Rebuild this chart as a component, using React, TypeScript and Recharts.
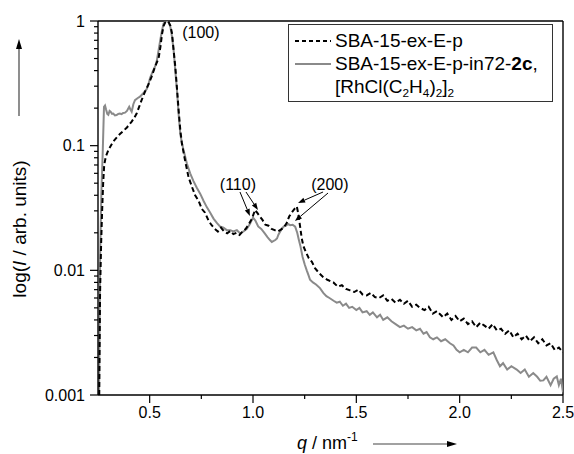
import React from 'react';
import { LineChart, Line, XAxis, YAxis, ReferenceLine, ReferenceDot, Legend } from 'recharts';

// ---------------- data ----------------
const qDashed = [
  0.256, 0.26, 0.265, 0.27, 0.275, 0.28, 0.288, 0.3, 0.312, 0.324, 0.34, 0.356, 0.372, 0.39, 0.413, 0.425,
  0.437, 0.449, 0.461, 0.477, 0.493, 0.51, 0.526, 0.543, 0.552, 0.56, 0.568, 0.576, 0.584, 0.592, 0.6, 0.608,
  0.616, 0.624, 0.632, 0.64, 0.648, 0.656, 0.672, 0.688, 0.704, 0.72, 0.737, 0.753, 0.768, 0.785, 0.8, 0.815,
  0.83, 0.845, 0.86, 0.875, 0.89, 0.905, 0.92, 0.935, 0.95, 0.965, 0.98, 0.995, 1.01, 1.02, 1.03, 1.045,
  1.06, 1.075, 1.09, 1.105, 1.12, 1.135, 1.15, 1.163, 1.175, 1.187, 1.2, 1.212, 1.22, 1.228, 1.236, 1.244,
  1.256, 1.27, 1.285, 1.3, 1.32, 1.34, 1.36, 1.389, 1.41, 1.43, 1.45, 1.47, 1.49, 1.51, 1.53, 1.55,
  1.57, 1.59, 1.61, 1.63, 1.65, 1.67, 1.69, 1.711, 1.73, 1.75, 1.77, 1.79, 1.808, 1.83, 1.85, 1.87,
  1.89, 1.92, 1.94, 1.96, 1.98, 2.0, 2.02, 2.04, 2.06, 2.08, 2.1, 2.12, 2.14, 2.16, 2.18, 2.2,
  2.22, 2.24, 2.26, 2.28, 2.3, 2.32, 2.34, 2.36, 2.38, 2.4, 2.42, 2.44, 2.46, 2.48, 2.5,
];
const iDashed = [
  0.001, 0.0066, 0.016, 0.03, 0.05, 0.07, 0.082, 0.092, 0.1, 0.108, 0.116, 0.124, 0.131, 0.14, 0.156, 0.167,
  0.181, 0.205, 0.232, 0.27, 0.307, 0.36, 0.43, 0.5, 0.62, 0.79, 0.92, 0.98, 1.0, 0.98, 0.92, 0.8,
  0.58, 0.43, 0.29, 0.193, 0.135, 0.104, 0.075, 0.056, 0.047, 0.04, 0.036, 0.031, 0.029, 0.025, 0.023, 0.0215,
  0.0205, 0.022, 0.0205, 0.0198, 0.0207, 0.0195, 0.02, 0.0192, 0.0205, 0.0215, 0.0235, 0.026, 0.0305, 0.029, 0.0275, 0.0255,
  0.0232, 0.0228, 0.0215, 0.021, 0.0205, 0.0212, 0.0222, 0.024, 0.027, 0.029, 0.031, 0.0325, 0.028, 0.0224, 0.018, 0.0156,
  0.014, 0.0125, 0.0117, 0.0104, 0.0095, 0.0088, 0.0084, 0.008, 0.0074, 0.0076, 0.0071, 0.0069, 0.0067, 0.007, 0.0064, 0.0063,
  0.0066, 0.0061, 0.006, 0.0063, 0.0057, 0.0059, 0.0055, 0.0058, 0.0054, 0.0057, 0.0051, 0.0053, 0.005, 0.0048, 0.0051, 0.0045,
  0.0047, 0.0042, 0.0045, 0.004, 0.0043, 0.0039, 0.0041, 0.0037, 0.0039, 0.0035, 0.0038, 0.0036, 0.0034, 0.0037, 0.0033, 0.0034,
  0.0031, 0.0033, 0.0029, 0.0031, 0.0028, 0.003, 0.0027, 0.0029, 0.0026, 0.0028, 0.0025, 0.0026, 0.0023, 0.0024, 0.0022,
];

const qGray = [
  0.255, 0.26, 0.266, 0.273, 0.279, 0.284, 0.289, 0.295, 0.3, 0.306, 0.311, 0.318, 0.324, 0.332, 0.34, 0.348,
  0.356, 0.364, 0.372, 0.381, 0.39, 0.401, 0.407, 0.413, 0.421, 0.429, 0.441, 0.453, 0.469, 0.486, 0.494, 0.502,
  0.514, 0.526, 0.535, 0.543, 0.551, 0.559, 0.567, 0.575, 0.584, 0.592, 0.6, 0.608, 0.616, 0.624, 0.632, 0.64,
  0.648, 0.656, 0.664, 0.68, 0.696, 0.712, 0.728, 0.745, 0.761, 0.777, 0.793, 0.809, 0.825, 0.84, 0.857, 0.873,
  0.89, 0.905, 0.922, 0.938, 0.954, 0.97, 0.985, 1.0, 1.012, 1.025, 1.04, 1.055, 1.07, 1.082, 1.091, 1.1,
  1.108, 1.116, 1.123, 1.135, 1.148, 1.16, 1.17, 1.18, 1.192, 1.204, 1.214, 1.222, 1.23, 1.24, 1.25, 1.26,
  1.268, 1.276, 1.29, 1.305, 1.324, 1.34, 1.355, 1.37, 1.39, 1.405, 1.42, 1.435, 1.45, 1.465, 1.48, 1.5,
  1.515, 1.53, 1.55, 1.565, 1.58, 1.6, 1.615, 1.63, 1.65, 1.67, 1.69, 1.711, 1.73, 1.75, 1.77, 1.79,
  1.808, 1.825, 1.84, 1.856, 1.872, 1.89, 1.91, 1.93, 1.953, 1.97, 1.985, 2.0, 2.02, 2.04, 2.06, 2.08,
  2.1, 2.12, 2.14, 2.163, 2.18, 2.195, 2.21, 2.23, 2.25, 2.276, 2.295, 2.315, 2.335, 2.356, 2.375, 2.39,
  2.405, 2.42, 2.44, 2.455, 2.47, 2.48, 2.49, 2.5,
];
const iGray = [
  0.001, 0.012, 0.04, 0.09, 0.205, 0.21, 0.195, 0.18, 0.177, 0.19, 0.187, 0.18, 0.181, 0.175, 0.176, 0.18,
  0.181, 0.179, 0.183, 0.184, 0.19, 0.205, 0.195, 0.187, 0.215, 0.232, 0.24, 0.247, 0.263, 0.285, 0.31, 0.35,
  0.39, 0.43, 0.485, 0.58, 0.7, 0.83, 0.95, 0.99, 1.0, 0.97, 0.9, 0.75, 0.58, 0.4, 0.28, 0.18,
  0.125, 0.105, 0.092, 0.072, 0.06, 0.052, 0.046, 0.041, 0.036, 0.032, 0.029, 0.026, 0.024, 0.0225, 0.022, 0.021,
  0.021, 0.0205, 0.021, 0.0198, 0.0205, 0.0215, 0.0235, 0.0265, 0.025, 0.0225, 0.0215, 0.02, 0.0185, 0.0175, 0.0169, 0.0172,
  0.0175, 0.018, 0.0193, 0.021, 0.0224, 0.0228, 0.0235, 0.023, 0.0232, 0.0224, 0.02, 0.0175, 0.0155, 0.0128, 0.0112, 0.01,
  0.0092, 0.0084, 0.008, 0.0077, 0.0072, 0.0066, 0.0062, 0.006, 0.0057, 0.0055, 0.0056, 0.0052, 0.0054, 0.005, 0.0051, 0.0048,
  0.005, 0.0046, 0.0047, 0.0044, 0.0046, 0.0042, 0.0044, 0.004, 0.0042, 0.0039, 0.0037, 0.0035, 0.0036, 0.0034, 0.0035, 0.0033,
  0.0034, 0.0031, 0.0032, 0.0029, 0.0028, 0.0029, 0.0027, 0.0028, 0.0026, 0.0025, 0.0023, 0.0022, 0.0023, 0.0022, 0.0024, 0.0024,
  0.0022, 0.0023, 0.0021, 0.0022, 0.0019, 0.0017, 0.0018, 0.0016, 0.0017, 0.0016, 0.0015, 0.0016, 0.0014, 0.0015, 0.0014, 0.0013,
  0.00131, 0.0014, 0.0012, 0.00135, 0.00141, 0.0012, 0.00135, 0.00105,
];

const xMajorTicks = [0.5, 1.0, 1.5, 2.0, 2.5];
const xMinorTicks = [0.75, 1.25, 1.75, 2.25];
const yMajorTicks = [0.001, 0.01, 0.1, 1];
const yTickLabels = ['0.001', '0.01', '0.1', '1'];
const yMinorTicks = [
  0.002, 0.003, 0.004, 0.005, 0.006, 0.007, 0.008, 0.009,
  0.02, 0.03, 0.04, 0.05, 0.06, 0.07, 0.08, 0.09,
  0.2, 0.3, 0.4, 0.5, 0.6, 0.7, 0.8, 0.9,
];

const seriesNames = ['SBA-15-ex-E-p', 'SBA-15-ex-E-p-in72-2c, [RhCl(C2H4)2]2'];

const peakLabels = [
  { text: '(100)', q: 0.748, i: 0.816 },
  { text: '(110)', q: 0.927, i: 0.0493 },
  { text: '(200)', q: 1.372, i: 0.0493 },
];

const peakArrows = [
  { q1: 0.937, i1: 0.0425, q2: 0.985, i2: 0.0273 },
  { q1: 0.966, i1: 0.0425, q2: 1.024, i2: 0.0305 },
  { q1: 1.339, i1: 0.0425, q2: 1.218, i2: 0.0347 },
  { q1: 1.363, i1: 0.0417, q2: 1.203, i2: 0.0249 },
];

// ---------------- derived tables ----------------
const dashedData = qDashed.map((q, k) => ({ q, i: iDashed[k] }));
const grayData = qGray.map((q, k) => ({ q, i: iGray[k] }));

const FONT = '"Liberation Sans", Arial, Helvetica, sans-serif';
const GRAY = '#8a8a8a';

const isIn = (arr: number[], v: number) => arr.findIndex((t) => Math.abs(t - v) <= Math.abs(v) * 1e-6);

const YTick = (props: any) => {
  const { x, y, payload } = props;
  const idx = isIn(yMajorTicks, payload.value);
  const major = idx >= 0;
  return (
    <g>
      <line x1={x - (major ? 8 : 4)} x2={x} y1={y} y2={y} stroke="#000" strokeWidth={1.2} />
      {major && (
        <text x={x - 13} y={y} dy="0.36em" textAnchor="end" fontSize={16} fontFamily={FONT} fill="#000">
          {yTickLabels[idx]}
        </text>
      )}
    </g>
  );
};

const XTick = (props: any) => {
  const { x, y, payload } = props;
  const major = isIn(xMajorTicks, payload.value) >= 0;
  return (
    <g>
      <line x1={x} x2={x} y1={y} y2={y + (major ? 8 : 4)} stroke="#000" strokeWidth={1.2} />
      {major && (
        <text x={x} y={y + 23} textAnchor="middle" fontSize={16} fontFamily={FONT} fill="#000">
          {Number(payload.value).toFixed(1)}
        </text>
      )}
    </g>
  );
};

const ArrowShape = (props: any) => {
  const { x1, y1, x2, y2 } = props;
  const ang = Math.atan2(y2 - y1, x2 - x1);
  const L = 7;
  const W = 2.6;
  const bx = x2 - L * Math.cos(ang);
  const by = y2 - L * Math.sin(ang);
  const p1x = bx + W * Math.sin(ang);
  const p1y = by - W * Math.cos(ang);
  const p2x = bx - W * Math.sin(ang);
  const p2y = by + W * Math.cos(ang);
  return (
    <g>
      <line x1={x1} y1={y1} x2={bx} y2={by} stroke="#000" strokeWidth={1} />
      <polygon points={`${x2},${y2} ${p1x},${p1y} ${p2x},${p2y}`} fill="#000" />
    </g>
  );
};

const LabelShape = (text: string) => (props: any) => (
  <text x={props.cx} y={props.cy} dy="0.36em" textAnchor="middle" fontSize={16} fontFamily={FONT} fill="#000">
    {text}
  </text>
);

// axis titles drawn in a page-fixed overlay
const AxisTitles = () => {
  const cx = 19;
  const cy = 229;
  const ay = 444;
  return (
    <svg
      width={574}
      height={454}
      style={{ position: 'absolute', left: 0, top: 0, pointerEvents: 'none' }}
    >
      <text
        x={cx}
        y={cy}
        transform={`rotate(-90, ${cx}, ${cy})`}
        dy="0.36em"
        textAnchor="middle"
        fontSize={19}
        fontFamily={FONT}
        fill="#000"
      >
        log(<tspan fontStyle="italic">I</tspan> / arb. units)
      </text>
      <line x1={cx} x2={cx} y1={116} y2={48} stroke="#444" strokeWidth={1.2} />
      <polygon points={`${cx},39 ${cx - 3},49 ${cx + 3},49`} fill="#000" />

      <text x={297} y={449} textAnchor="start" fontSize={18} fontFamily={FONT} fill="#000">
        <tspan fontStyle="italic">q</tspan> / nm
        <tspan fontSize={12} dy={-8}>-1</tspan>
      </text>
      <line x1={373} x2={448} y1={ay} y2={ay} stroke="#444" strokeWidth={1.2} />
      <polygon points={`457,${ay} 447,${ay - 3} 447,${ay + 3}`} fill="#000" />
    </svg>
  );
};

const sub = (t: string) => (
  <span style={{ fontSize: '0.62em', position: 'relative', top: '0.35em' }}>{t}</span>
);

const LegendBox = () => (
  <div
    style={{
      position: 'relative',
      width: 265,
      height: 78,
      boxSizing: 'border-box',
      border: '1px solid #333',
      background: '#fff',
      fontFamily: FONT,
      fontSize: 19,
      lineHeight: '22px',
      color: '#000',
    }}
  >
    <svg width={44} height={78} style={{ position: 'absolute', left: 0, top: 0 }}>
      <line x1={6} x2={42} y1={16} y2={16} stroke="#000" strokeWidth={2} strokeDasharray="4 3" />
      <line x1={6} x2={42} y1={39} y2={39} stroke={GRAY} strokeWidth={2} />
    </svg>
    <div style={{ position: 'absolute', left: 46, top: 5, whiteSpace: 'nowrap' }}>{seriesNames[0]}</div>
    <div style={{ position: 'absolute', left: 46, top: 28, whiteSpace: 'nowrap' }}>
      SBA-15-ex-E-p-in72-<b>2c</b>,
    </div>
    <div style={{ position: 'absolute', left: 46, top: 51, whiteSpace: 'nowrap' }}>
      [RhCl(C{sub('2')}H{sub('4')}){sub('2')}]{sub('2')}
    </div>
  </div>
);

export default function App() {
  return (
    <div style={{ position: 'absolute', left: 0, top: 0, width: 574, height: 454, background: '#fff' }}>
      <LineChart width={574} height={454} margin={{ top: 21, right: 11, bottom: 9, left: 8 }}>
        <XAxis
          dataKey="q"
          type="number"
          domain={[0.25, 2.5]}
          allowDataOverflow
          ticks={[...xMajorTicks, ...xMinorTicks].sort((a, b) => a - b)}
          interval={0}
          tickSize={0}
          tickMargin={0}
          tickLine={false}
          tick={<XTick />}
          axisLine={{ stroke: '#000', strokeWidth: 1.4 }}
          height={50}
        />
        <YAxis
          type="number"
          scale="log"
          domain={[0.001, 1]}
          allowDataOverflow
          ticks={[...yMajorTicks, ...yMinorTicks].sort((a, b) => a - b)}
          interval={0}
          tickSize={0}
          tickMargin={0}
          tickLine={false}
          tick={<YTick />}
          axisLine={{ stroke: '#000', strokeWidth: 1.4 }}
          width={90}
        />
        <ReferenceLine y={1} stroke="#000" strokeWidth={1.4} />
        <ReferenceLine x={2.5} stroke="#000" strokeWidth={1.4} />
        <Line
          data={grayData}
          dataKey="i"
          name={seriesNames[1]}
          type="linear"
          dot={false}
          stroke={GRAY}
          strokeWidth={2}
          isAnimationActive={false}
        />
        <Line
          data={dashedData}
          dataKey="i"
          name={seriesNames[0]}
          type="linear"
          dot={false}
          stroke="#000"
          strokeWidth={2}
          strokeDasharray="5 3"
          isAnimationActive={false}
        />
        {peakArrows.map((a, k) => (
          <ReferenceLine
            key={`arr${k}`}
            segment={[
              { x: a.q1, y: a.i1 },
              { x: a.q2, y: a.i2 },
            ]}
            shape={(p: any) => <ArrowShape {...p} />}
          />
        ))}
        {peakLabels.map((l, k) => (
          <ReferenceDot key={`lab${k}`} x={l.q} y={l.i} r={0} shape={LabelShape(l.text)} />
        ))}
        <Legend
          layout="vertical"
          align="center"
          verticalAlign="middle"
          content={() => <LegendBox />}
          wrapperStyle={{ left: 288, top: 24, width: 265, height: 78 }}
        />
      </LineChart>
      <AxisTitles />
    </div>
  );
}
